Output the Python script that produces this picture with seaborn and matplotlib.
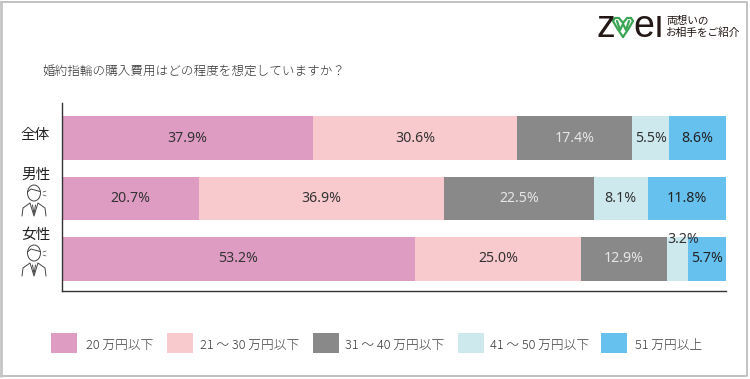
# Import libraries
import numpy as np
import matplotlib.pyplot as plt
import seaborn as sns
from matplotlib.patches import Rectangle, Ellipse

# Chart data
groups = ['全体', '男性', '女性']
price_bands = ['20 万円以下', '21 〜 30 万円以下', '31 〜 40 万円以下', '41 〜 50 万円以下', '51 万円以上']
under_20 = [37.9, 20.7, 53.2]
from_21_30 = [30.6, 36.9, 25.0]
from_31_40 = [17.4, 22.5, 12.9]
from_41_50 = [5.5, 8.1, 3.2]
over_51 = [8.6, 11.8, 5.7]
band_colors = ['#de9cc2', '#f9cacd', '#898989', '#cde9ee', '#66c1ef']
label_colors = ['#333333', '#333333', '#e6e6e6', '#333333', '#222222']
title = '婚約指輪の購入費用はどの程度を想定していますか？'

W, H = 750, 379

sns.set_style("white")
plt.rcParams['font.family'] = ['Noto Sans CJK JP', 'DejaVu Sans']

fig = plt.figure(figsize=(W / 100, H / 100), dpi=100, facecolor='white')

# Axes placed to line up with the plot area of the reference
ax = fig.add_axes([61.5 / W, 1 - 291 / H, 664.5 / W, 188 / H])
ax.patch.set_alpha(0)

series = [under_20, from_21_30, from_31_40, from_41_50, over_51]
left = np.zeros(3)
for vals, color, lab_color in zip(series, band_colors, label_colors):
    sns.barplot(x=vals, y=groups, left=left, color=color, width=0.727,
                saturation=1, orient='h', linewidth=0, ax=ax)
    for i, v in enumerate(vals):
        # the 3.2% segment is too narrow, its label sits higher up
        y_pos = i - 0.33 if v == 3.2 else i
        x_pos = left[i] + v / 2 + (0.9 if v == 3.2 else 0)
        ax.text(x_pos, y_pos, f'{v}%', ha='center', va='center',
                fontsize=10.2, color=lab_color, family='Noto Sans')
    left += np.array(vals)

ax.set_xlim(0, 100)
ax.set_ylim(2.53, -0.58)
ax.set_xlabel('')
ax.set_ylabel('')
ax.set_xticks([])
ax.set_yticks([])
for side in ['top', 'right']:
    ax.spines[side].set_visible(False)
for side in ['left', 'bottom']:
    ax.spines[side].set_color('#333333')
    ax.spines[side].set_linewidth(1)

# Overlay in pixel coordinates for frame, title, labels, legend, logo
ov = fig.add_axes([0, 0, 1, 1])
ov.set_xlim(0, W)
ov.set_ylim(H, 0)
ov.axis('off')
ov.patch.set_alpha(0)

# Outer frame
ov.plot([0, 747, 747, 0], [2, 2, 376, 376], color='#b8b8b8', lw=1.2)
ov.plot([1, 1], [2, 376], color='#c4c4c4', lw=2)

ov.text(42, 71, title, fontsize=9.05, color='#333333', va='center', ha='left', fontweight='light')

# Group labels
for name, y_pos in zip(groups, [135, 175, 235]):
    ov.text(35.5, y_pos, name, fontsize=10.5, color='#222222', ha='center', va='center')


# Small line icon of a person
def person(cx, top):
    ov.add_patch(Ellipse((cx, top + 8), 13, 16, fc='white', ec='#444444', lw=0.7))
    ov.plot([cx - 6.5, cx - 3, cx + 6], [top + 7, top + 4, top + 6.5], color='#444444', lw=0.7)
    ov.plot([cx - 12, cx - 11, cx - 4, cx, cx + 4, cx + 11, cx + 12],
            [top + 31, top + 23, top + 18, top + 31, top + 18, top + 23, top + 31],
            color='#444444', lw=0.7)
    ov.plot([cx - 1.5, cx, cx + 1.5], [top + 20, top + 29, top + 20], color='#444444', lw=0.7)
    ov.plot([cx + 9, cx + 12], [top + 7, top + 6], color='#444444', lw=0.5)
    ov.plot([cx + 9, cx + 12], [top + 10, top + 11], color='#444444', lw=0.5)


person(34, 185)
person(34, 245)

# Legend
swatches = [51, 167, 313, 458, 601]
text_x = [86, 200, 345, 490, 635]
for sx, tx, color, label in zip(swatches, text_x, band_colors, price_bands):
    ov.add_patch(Rectangle((sx, 333), 26, 20, fc=color, ec='none'))
    ov.text(tx, 345, label, fontsize=9.15, color='#3a3a3a', va='center', ha='left', fontweight='light')

# Logo
ov.text(596, 37, 'z', fontsize=27, color='#231815', family='Liberation Sans', va='baseline', ha='left')
ov.text(633, 37, 'eı', fontsize=27, color='#231815', family='Liberation Sans', va='baseline', ha='left')
green = '#3aa655'
ov.plot([623, 617, 613, 615, 619, 623, 627, 631, 633, 629, 623],
        [37, 28, 21, 18, 18, 23, 18, 18, 21, 28, 37], color=green, lw=1.6)
ov.plot([617, 620, 623, 626, 629], [21, 30, 24, 30, 21], color=green, lw=1.6)
ov.text(666, 21, '両想いの', fontsize=7.7, color='#231815', va='center', ha='left')
ov.text(666, 33, 'お相手をご紹介', fontsize=7.7, color='#231815', va='center', ha='left')

# Save the plot
plt.savefig('out.png', dpi=100)
